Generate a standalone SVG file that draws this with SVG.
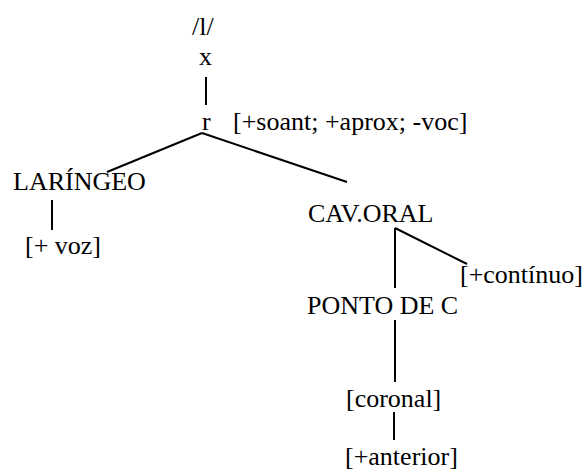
<svg xmlns="http://www.w3.org/2000/svg" width="585" height="470" viewBox="0 0 585 470">
  <style>
    .lbl { font-family: "Liberation Serif", Tinos, "Times New Roman", "DejaVu Serif", serif; font-size: 26px; fill: #000; }
    .edge { stroke: #000; stroke-width: 2; fill: none; stroke-linecap: butt; }
  </style>
  <rect width="585" height="470" fill="#fff"/>

  <!-- feature tree connectors -->
  <g id="connectors">
    <line class="edge" x1="206" y1="77" x2="206" y2="105"/>
    <line class="edge" x1="202" y1="133" x2="107" y2="172"/>
    <line class="edge" x1="202" y1="133" x2="347" y2="182"/>
    <line class="edge" x1="52" y1="200" x2="52" y2="230"/>
    <line class="edge" x1="395" y1="228" x2="395" y2="288"/>
    <line class="edge" x1="395" y1="228" x2="467" y2="264"/>
    <line class="edge" x1="395" y1="320" x2="395" y2="382"/>
    <line class="edge" x1="394" y1="412" x2="394" y2="440"/>
  </g>

  <g font-family="Liberation Serif, serif" font-size="26">
    <g id="segment"><text class="lbl" x="192" y="35">/l/</text></g>
    <g id="timing"><text class="lbl" x="199" y="65">x</text></g>
    <g id="root"><text class="lbl" x="202" y="130">r</text></g>
    <g id="root-features"><text class="lbl" x="233" y="130">[+soant; +aprox; -voc]</text></g>
    <g id="laryngeal"><text class="lbl" x="13" y="190">LARÍNGEO</text></g>
    <g id="voice"><text class="lbl" x="25" y="254">[+ voz]</text></g>
    <g id="oral-cavity"><text class="lbl" x="308" y="222">CAV.ORAL</text></g>
    <g id="continuant"><text class="lbl" x="460" y="283">[+contínuo]</text></g>
    <g id="place"><text class="lbl" x="307" y="314">PONTO DE C</text></g>
    <g id="coronal"><text class="lbl" x="346" y="407">[coronal]</text></g>
    <g id="anterior"><text class="lbl" x="345" y="465">[+anterior]</text></g>
  </g>
</svg>
